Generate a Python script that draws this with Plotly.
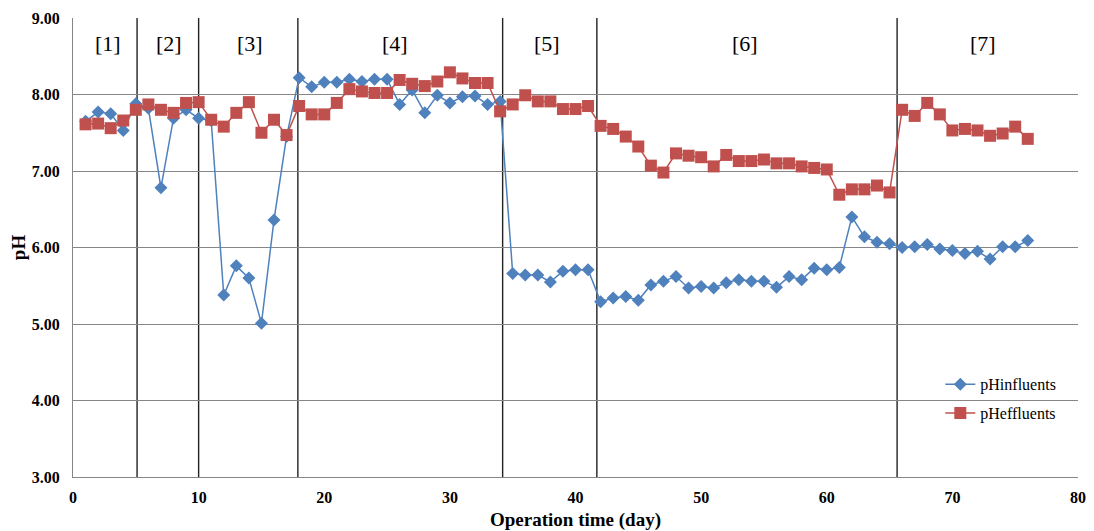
import plotly.graph_objects as go

days = list(range(1, 77))
ph_influents = [7.65, 7.77, 7.75, 7.53, 7.88, 7.82, 6.78, 7.69, 7.80, 7.69,
                7.66, 5.38, 5.76, 5.60, 5.01, 6.36, 7.45, 8.22, 8.10, 8.16,
                8.16, 8.20, 8.17, 8.20, 8.20, 7.87, 8.06, 7.76, 7.99, 7.89,
                7.97, 7.98, 7.87, 7.91, 5.66, 5.64, 5.64, 5.55, 5.69, 5.71,
                5.71, 5.29, 5.34, 5.36, 5.31, 5.51, 5.56, 5.62, 5.47, 5.49,
                5.47, 5.54, 5.58, 5.56, 5.56, 5.48, 5.62, 5.58, 5.73, 5.71,
                5.74, 6.40, 6.14, 6.07, 6.05, 6.00, 6.01, 6.04, 5.98, 5.96,
                5.92, 5.95, 5.85, 6.01, 6.01, 6.09]
ph_effluents = [7.61, 7.62, 7.56, 7.66, 7.80, 7.87, 7.80, 7.76, 7.89, 7.90,
                7.67, 7.58, 7.76, 7.90, 7.50, 7.67, 7.47, 7.85, 7.74, 7.74,
                7.89, 8.07, 8.04, 8.02, 8.02, 8.19, 8.14, 8.11, 8.17, 8.29,
                8.21, 8.15, 8.15, 7.78, 7.87, 7.99, 7.91, 7.91, 7.81, 7.81,
                7.85, 7.59, 7.55, 7.45, 7.32, 7.07, 6.98, 7.23, 7.20, 7.18,
                7.06, 7.21, 7.13, 7.13, 7.15, 7.10, 7.10, 7.06, 7.04, 7.02,
                6.69, 6.76, 6.76, 6.81, 6.72, 7.80, 7.72, 7.89, 7.74, 7.53,
                7.55, 7.53, 7.46, 7.49, 7.58, 7.42]

phase_bounds = [5.1, 10.0, 17.9, 34.2, 41.7, 65.6]
phase_labels = ["[1]", "[2]", "[3]", "[4]", "[5]", "[6]", "[7]"]
phase_label_x = [2.8, 7.65, 14.1, 25.6, 37.7, 53.5, 72.4]
phase_label_y = 8.67

y_ticks = [3, 4, 5, 6, 7, 8, 9]
x_ticks = [0, 10, 20, 30, 40, 50, 60, 70, 80]

SERIF = "Liberation Serif, Times New Roman, serif"

fig = go.Figure()
fig.add_trace(go.Scatter(
    x=days, y=ph_influents, mode="lines+markers", name="pHinfluents",
    legendgroup="a",
    line=dict(color="#4F81BD", width=1.5),
    marker=dict(symbol="diamond", size=10, color="#4F81BD"),
))
fig.add_trace(go.Scatter(
    x=days, y=ph_effluents, mode="lines+markers", name="pHeffluents",
    legendgroup="b",
    line=dict(color="#C0504D", width=1.5),
    marker=dict(symbol="square", size=12, color="#C0504D"),
))

for b in phase_bounds:
    fig.add_shape(type="line", xref="x", yref="paper", x0=b, x1=b, y0=0, y1=1,
                  line=dict(color="#222222", width=1.4), layer="below")

for lbl, lx in zip(phase_labels, phase_label_x):
    fig.add_annotation(x=lx, y=phase_label_y, text=lbl, showarrow=False,
                       font=dict(family=SERIF, size=22, color="#000000"))

# the page body adds an 8px margin, so the figure is sized to fit the window
fig.update_layout(
    width=1086, height=523,
    margin=dict(l=65, r=16, t=10, b=54),
    paper_bgcolor="white", plot_bgcolor="white",
    showlegend=True,
    legend=dict(x=0.863, y=0.239, xanchor="left", yanchor="top",
                bgcolor="rgba(0,0,0,0)",
                font=dict(family=SERIF, size=16, color="#000000"),
                itemwidth=30, tracegroupgap=5),
    font=dict(family=SERIF, color="#000000"),
)
fig.update_xaxes(
    range=[0, 80], tickvals=x_ticks, ticktext=[str(v) for v in x_ticks],
    showgrid=False, zeroline=False, automargin=False,
    showline=True, linecolor="#868686", linewidth=1,
    ticks="outside", ticklen=6, tickcolor="rgba(0,0,0,0)",
    tickfont=dict(family=SERIF, size=16, color="#000000", weight="bold"),
    title=dict(text="<b>Operation time (day)</b>", standoff=10,
               font=dict(family=SERIF, size=19, color="#000000")),
)
fig.update_yaxes(
    range=[3, 9], tickvals=y_ticks, ticktext=[f"{v:.2f}" for v in y_ticks],
    showgrid=True, gridcolor="#868686", gridwidth=1, zeroline=False,
    automargin=False,
    showline=True, linecolor="#868686", linewidth=1,
    ticks="outside", ticklen=9, tickcolor="rgba(0,0,0,0)",
    tickfont=dict(family=SERIF, size=16, color="#000000", weight="bold"),
    title=dict(text="<b>pH</b>", standoff=2,
               font=dict(family=SERIF, size=19, color="#000000")),
)

fig.write_html("out.html")
